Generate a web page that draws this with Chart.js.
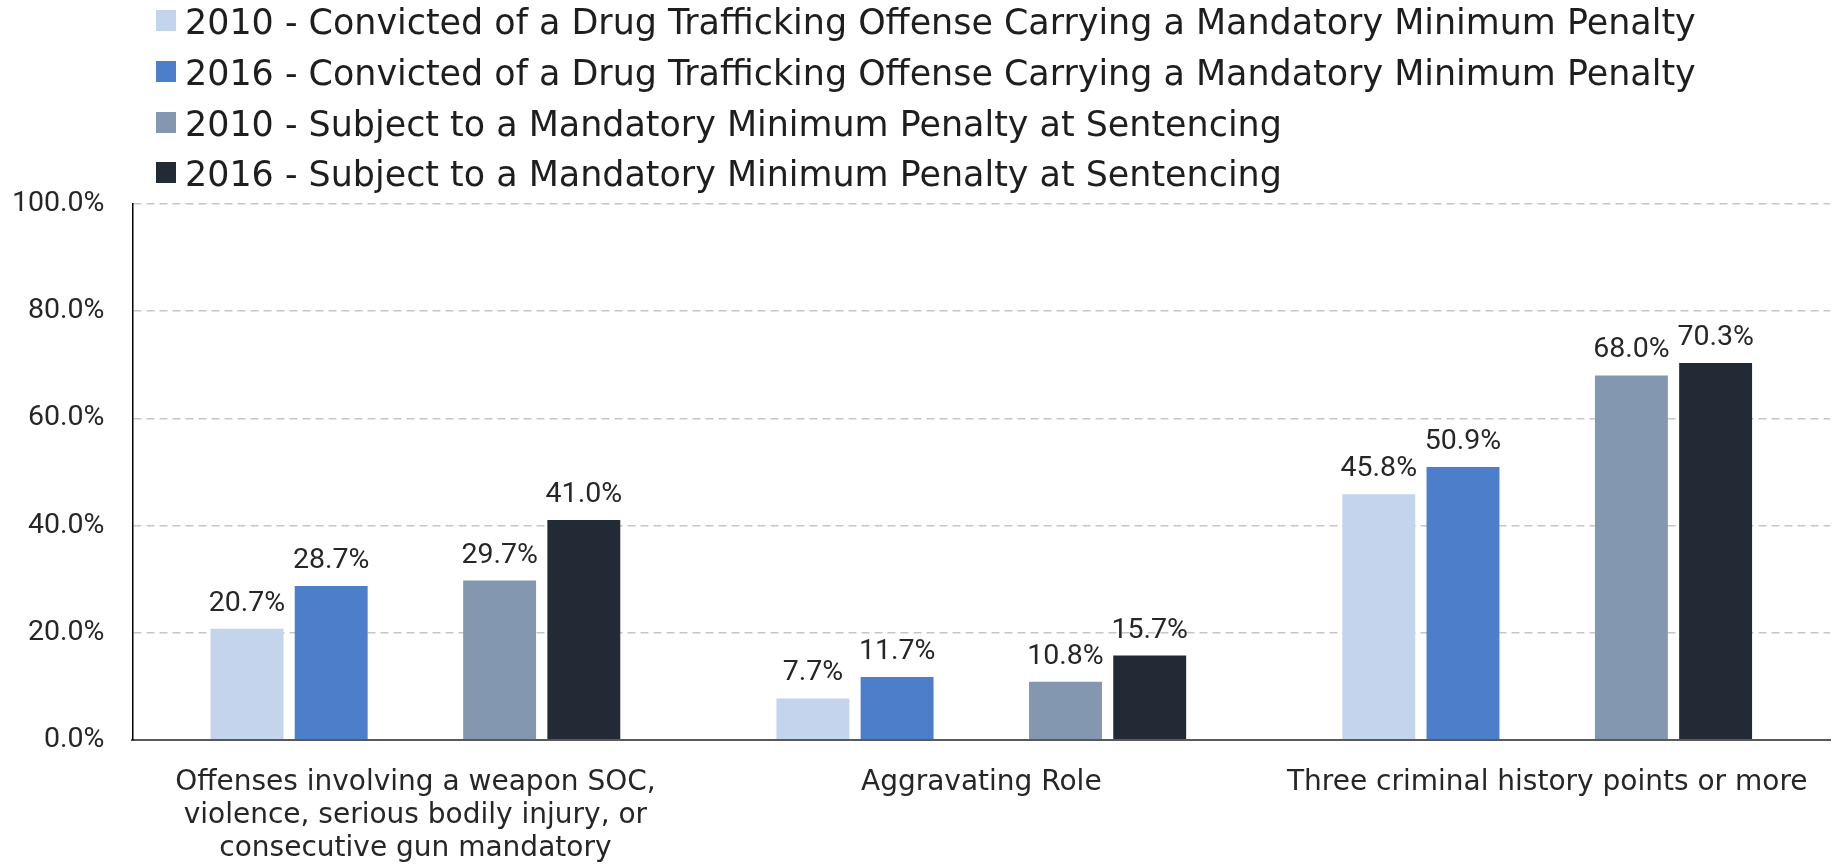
<!DOCTYPE html>
<html lang="en">
<head>
  <meta charset="UTF-8" />
  <title>Mandatory Minimum Penalty - Offender Characteristics</title>
  <script src="https://cdn.jsdelivr.net/npm/chart.js"></script>
  <style>
    body {
      margin: 0;
      background: #fff;
    }
    .wrap {
      position: relative;
      width: 1835px;
      height: 865px;
    }
    #legend {
      position: absolute;
      left: 156px;
      top: -3px;
      font-family: 'DejaVu Sans', sans-serif;
      font-size: 34.9px;
      color: #1e1e1e;
    }
    .item {
      position: relative;
      height: 50.8px;
      line-height: 50.8px;
      white-space: nowrap;
    }
    .box {
      position: absolute;
      left: 0;
      top: 13px;
      width: 20px;
      height: 21px;
    }
    .txt {
      padding-left: 29px;
    }
  </style>
</head>
<body>
  <div class="wrap">
    <canvas id="chart" width="1835" height="865"></canvas>
    <div id="legend"></div>
  </div>

  <script>
    const categories = [
      ['Offenses involving a weapon SOC,', 'violence, serious bodily injury, or', 'consecutive gun mandatory'],
      'Aggravating Role',
      'Three criminal history points or more'
    ];
    const seriesNames = [
      '2010 - Convicted of a Drug Trafficking Offense Carrying a Mandatory Minimum Penalty',
      '2016 - Convicted of a Drug Trafficking Offense Carrying a Mandatory Minimum Penalty',
      '2010 - Subject to a Mandatory Minimum Penalty at Sentencing',
      '2016 - Subject to a Mandatory Minimum Penalty at Sentencing'
    ];
    const seriesColors = ['#c3d4ec', '#4d7ec9', '#8497b0', '#222a35'];

    const convicted2010 = [20.7, 7.7, 45.8];
    const convicted2016 = [28.7, 11.7, 50.9];
    const subject2010 = [29.7, 10.8, 68.0];
    const subject2016 = [41.0, 15.7, 70.3];

    const yMax = 100;
    const yStep = 20;

    // legend
    const legendEl = document.getElementById('legend');
    seriesNames.forEach((name, i) => {
      const row = document.createElement('div');
      row.className = 'item';
      row.innerHTML = '<span class="box" style="background:' + seriesColors[i] + '"></span><span class="txt">' + name + '</span>';
      legendEl.appendChild(row);
    });

    // values above the bars
    const valueLabels = {
      id: 'valueLabels',
      afterDatasetsDraw(chart) {
        const ctx = chart.ctx;
        ctx.save();
        ctx.font = '28.5px Roboto';
        ctx.fillStyle = '#262626';
        ctx.textAlign = 'center';
        ctx.textBaseline = 'alphabetic';
        chart.data.datasets.forEach((ds, i) => {
          if (ds.spacer) return;
          chart.getDatasetMeta(i).data.forEach((bar, j) => {
            ctx.fillText(ds.data[j].toFixed(1) + '%', bar.x, bar.y - 18);
          });
        });
        ctx.restore();
      }
    };

    const bar = (label, data, color) => ({
      label: label,
      data: data,
      backgroundColor: color,
      borderWidth: 0
    });

    new Chart(document.getElementById('chart'), {
      type: 'bar',
      data: {
        labels: categories,
        datasets: [
          bar(seriesNames[0], convicted2010, seriesColors[0]),
          bar(seriesNames[1], convicted2016, seriesColors[1]),
          { label: '', data: [null, null, null], spacer: true },
          bar(seriesNames[2], subject2010, seriesColors[2]),
          bar(seriesNames[3], subject2016, seriesColors[3])
        ]
      },
      options: {
        responsive: false,
        animation: false,
        categoryPercentage: 0.744,
        barPercentage: 0.866,
        layout: {
          // tick padding is counted twice in the axis size, hence the negative values
          padding: { top: 204, left: -16, right: 3, bottom: -27 }
        },
        plugins: {
          legend: { display: false },
          tooltip: { enabled: false }
        },
        scales: {
          x: {
            ticks: {
              padding: 27,
              color: '#262626',
              font: { family: 'DejaVu Sans', size: 28, lineHeight: 1.17 }
            },
            grid: { display: false, drawTicks: false },
            border: { display: true, color: '#595959', width: 2 }
          },
          y: {
            min: 0,
            max: yMax,
            ticks: {
              stepSize: yStep,
              padding: 28,
              color: '#262626',
              font: { family: 'Roboto', size: 28.5 },
              callback: v => v.toFixed(1) + '%'
            },
            grid: {
              drawTicks: false,
              lineWidth: 1.5,
              color: c => c.tick && c.tick.value === 0 ? 'rgba(0,0,0,0)' : '#c6c6c6'
            },
            border: { display: true, color: '#000', width: 1.5, dash: [8, 5] }
          }
        }
      },
      plugins: [valueLabels]
    });
  </script>
</body>
</html>
